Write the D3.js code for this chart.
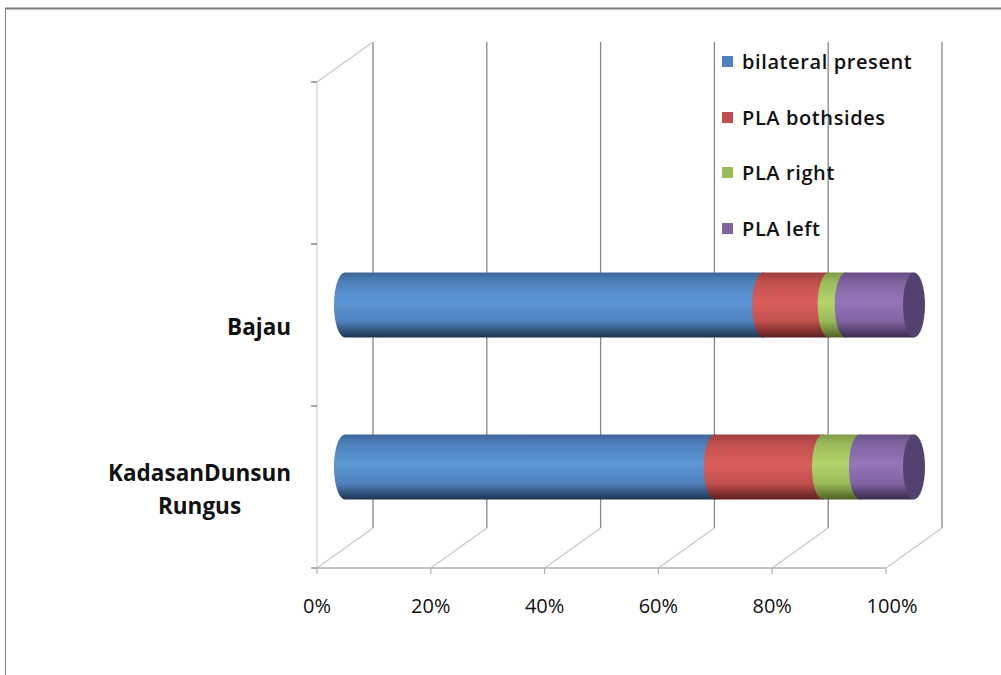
<!DOCTYPE html>
<html>
<head>
<meta charset="utf-8">
<script src="https://cdn.jsdelivr.net/npm/d3@7"></script>
<style>
  html, body { margin: 0; padding: 0; background: #ffffff; }
  svg { display: block; }
  text { font-family: "Open Sans", "Liberation Sans", sans-serif; }
</style>
</head>
<body>
<svg id="chart" width="1001" height="675"></svg>
<script>
// ---- data ----
const categories = ["KadasanDunsun Rungus", "Bajau"];
const categoryLines = [["KadasanDunsun", "Rungus"], ["Bajau"]];
const seriesNames = ["bilateral present", "PLA bothsides", "PLA right", "PLA left"];
const bilateralPresent = [65, 73.5];
const plaBothsides = [19, 11.5];
const plaRight = [6.5, 3];
const plaLeft = [9.5, 12];
const xTickValues = [0, 0.2, 0.4, 0.6, 0.8, 1.0];
const xTickLabels = ["0%", "20%", "40%", "60%", "80%", "100%"];

// ---- style ----
const baseColors = ["#4F81BD", "#C0504D", "#9BBB59", "#8064A2"];
const lightColors = ["#5E97D8", "#DA5E5C", "#B2D46C", "#9676B9"];
const darkColors = ["#1E344F", "#5C1F1E", "#4F6128", "#3A2B4E"];
const capColor = "#534270";

const svg = d3.select("#chart");
const defs = svg.append("defs");

// Chart-area border (only top & left visible)
svg.append("line").attr("x1", 5).attr("x2", 1001).attr("y1", 8.5).attr("y2", 8.5)
  .attr("stroke", "#7f7f7f").attr("stroke-width", 2);
svg.append("line").attr("x1", 5.5).attr("x2", 5.5).attr("y1", 8).attr("y2", 675)
  .attr("stroke", "#7f7f7f").attr("stroke-width", 1);

// ---- scales ----
const x0 = 317, x1 = 886;
const depthX = 56, depthY = -40;
const x = d3.scaleLinear().domain([0, 1]).range([x0, x1]);
// three category slots (top one empty)
const slots = ["KadasanDunsun Rungus", "Bajau", "__empty__"];
const y = d3.scaleBand().domain(slots).range([568, 82]).paddingInner(0).paddingOuter(0);
const bw = y.bandwidth();
const barH = bw / 2.5; // gap width 150%

// ---- walls ----
const gridColor = "#868686";
const lightLine = "#c8c8c8";
svg.append("g").selectAll("line").data(xTickValues).join("line")
  .attr("x1", d => x(d) + depthX).attr("x2", d => x(d) + depthX)
  .attr("y1", 82 + depthY).attr("y2", 568 + depthY)
  .attr("stroke", gridColor).attr("stroke-width", 1.3);
svg.append("g").selectAll("line").data(xTickValues).join("line")
  .attr("x1", d => x(d)).attr("x2", d => x(d) + depthX)
  .attr("y1", 568).attr("y2", 568 + depthY)
  .attr("stroke", lightLine).attr("stroke-width", 1.2);
svg.append("line").attr("x1", x0).attr("x2", x0).attr("y1", 82).attr("y2", 568)
  .attr("stroke", "#d0d0d0").attr("stroke-width", 1.2);
svg.append("line").attr("x1", x0).attr("x2", x0 + depthX).attr("y1", 82).attr("y2", 82 + depthY)
  .attr("stroke", lightLine).attr("stroke-width", 1.2);
svg.append("g").selectAll("line").data(slots.map(s => y(s)).concat([y(slots[0]) + bw])).join("line")
  .attr("x1", x0 - 6).attr("x2", x0).attr("y1", d => d).attr("y2", d => d)
  .attr("stroke", gridColor).attr("stroke-width", 1.5);

svg.append("line").attr("x1", x0 - 6).attr("x2", x1).attr("y1", 568).attr("y2", 568)
  .attr("stroke", "#b0b0b0").attr("stroke-width", 1.5);
svg.append("g").selectAll("line").data(xTickValues).join("line")
  .attr("x1", d => x(d)).attr("x2", d => x(d)).attr("y1", 568).attr("y2", 574)
  .attr("stroke", "#b0b0b0").attr("stroke-width", 1.2);
svg.append("g").selectAll("text").data(xTickValues).join("text")
  .attr("x", (d, i) => x(d) + (i === 5 ? 6 : 0)).attr("y", 613)
  .attr("text-anchor", "middle").attr("font-size", 20).attr("fill", "#111")
  .text((d, i) => xTickLabels[i]);

// ---- gradients ----
baseColors.forEach((c, i) => {
  const g = defs.append("linearGradient").attr("id", "g" + i)
    .attr("x1", 0).attr("x2", 0).attr("y1", 0).attr("y2", 1);
  g.append("stop").attr("offset", "0%").attr("stop-color", d3.interpolateRgb(c, darkColors[i])(0.35));
  g.append("stop").attr("offset", "15%").attr("stop-color", c);
  g.append("stop").attr("offset", "45%").attr("stop-color", lightColors[i]);
  g.append("stop").attr("offset", "75%").attr("stop-color", c);
  g.append("stop").attr("offset", "100%").attr("stop-color", darkColors[i]);
});

// ---- stacked cylinders ----
const table = categories.map((c, i) => ({
  cat: c,
  "bilateral present": bilateralPresent[i],
  "PLA bothsides": plaBothsides[i],
  "PLA right": plaRight[i],
  "PLA left": plaLeft[i]
}));
const stack = d3.stack().keys(seriesNames).offset(d3.stackOffsetExpand);
const stacked = stack(table);
const rx = 11;
const ry = barH / 2;
const midX = depthX / 2, midY = depthY / 2;

const barsG = svg.append("g");
table.forEach((row, ci) => {
  const cy = y(row.cat) + bw / 2 + midY;
  const top = cy - ry, bot = cy + ry;
  stacked.forEach((layer, si) => {
    const d = layer[ci];
    const xa = x(d[0]) + midX, xb = x(d[1]) + midX;
    const ext = si === stacked.length - 1 ? 0 : 1;
    const p = d3.path();
    p.moveTo(xb + ext, top);
    p.lineTo(xa, top);
    const steps = 30;
    for (let k = 1; k <= steps; k++) {
      const t = Math.PI / 2 + Math.PI * k / steps;
      p.lineTo(xa + rx * Math.cos(t), cy - ry * Math.sin(t));
    }
    p.lineTo(xb + ext, bot);
    p.closePath();
    barsG.append("path").attr("d", p.toString()).attr("fill", `url(#g${si})`);
  });
  barsG.append("ellipse").attr("cx", x(1) + midX).attr("cy", cy)
    .attr("rx", rx).attr("ry", ry).attr("fill", capColor);
});

// ---- category labels ----
const catG = svg.append("g");
table.forEach((row, ci) => {
  const lines = categoryLines[ci];
  const cy = y(row.cat) + bw / 2;
  const lh = 33;
  const t = catG.append("text").attr("font-size", 22.5).attr("font-weight", 700)
    .attr("fill", "#111").attr("text-anchor", "middle");
  const startY = cy - (lines.length - 1) * lh / 2 + 10;
  lines.forEach((ln, li) => {
    t.append("tspan").attr("x", 0).attr("y", startY + li * lh).text(ln);
  });
  const w = t.node().getBBox().width;
  t.attr("transform", `translate(${291 - w / 2},0)`);
});

// ---- legend ----
const legendY = [62, 118, 173, 229];
const lg = svg.append("g");
seriesNames.forEach((n, i) => {
  lg.append("rect").attr("x", 722).attr("y", legendY[i] - 6).attr("width", 11).attr("height", 11)
    .attr("fill", baseColors[i]);
  lg.append("text").attr("x", 742).attr("y", legendY[i] + 7).attr("font-size", 20)
    .attr("letter-spacing", 0.6)
    .attr("font-weight", 600).attr("fill", "#111").text(n);
});
</script>
</body>
</html>
